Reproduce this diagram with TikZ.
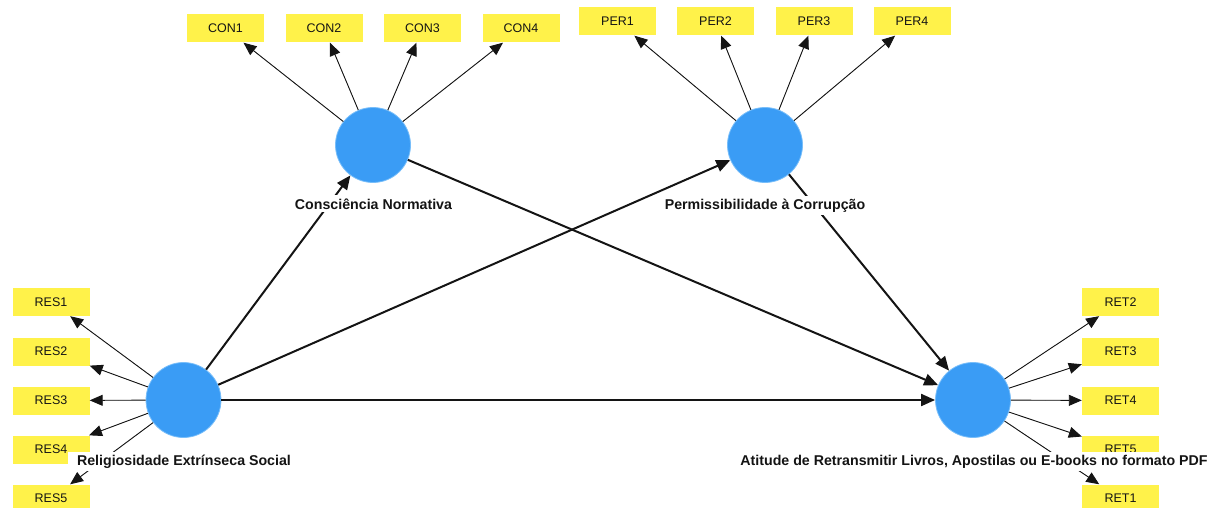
\documentclass[tikz,border=0pt]{standalone}
\usepackage{fontspec}
\setmainfont{Liberation Sans}
\usetikzlibrary{arrows.meta}
\definecolor{lvblue}{RGB}{58,156,245}
\definecolor{lvrim}{RGB}{120,190,250}
\definecolor{indyellow}{RGB}{255,242,74}
\definecolor{ink}{RGB}{20,20,20}
\tikzset{
  latent/.style={circle, fill=lvblue, draw=lvrim, line width=0.8pt,
    minimum size=75pt, inner sep=0pt},
  indicator/.style={rectangle, fill=indyellow, minimum width=77pt,
    minimum height=28pt, inner sep=0pt, text=ink,
    font=\fontsize{12.5}{14}\selectfont},
  loading/.style={-{Triangle[length=13pt,width=11pt]}, line width=0.9pt,
    draw=ink, fill=ink},
  structural/.style={-{Triangle[length=14pt,width=12pt]}, line width=2pt,
    draw=ink, fill=ink},
  lvlabel/.style={fill=white, inner xsep=9pt, inner ysep=3pt, anchor=base,
    text=ink, font=\bfseries\fontsize{14.2}{16}\selectfont}
}
\begin{document}
\begin{tikzpicture}[x=1pt,y=-1pt]
\useasboundingbox (0,0) rectangle (1218,508);

% latent variables
\node[latent] (con) at (373,145) {};
\node[latent] (per) at (765,145) {};
\node[latent] (res) at (183.5,400) {};
\node[latent] (ret) at (973,400) {};

% indicators
\node[indicator] (con1) at (225.5,28.5) {CON1};
\node[indicator] (con2) at (324,28.5) {CON2};
\node[indicator] (con3) at (422.5,28.5) {CON3};
\node[indicator] (con4) at (521,28.5) {CON4};

\node[indicator] (per1) at (617.5,21.5) {PER1};
\node[indicator] (per2) at (715.5,21.5) {PER2};
\node[indicator] (per3) at (814,21.5) {PER3};
\node[indicator] (per4) at (912,21.5) {PER4};

\node[indicator] (res1) at (51,302) {RES1};
\node[indicator] (res2) at (51,351.5) {RES2};
\node[indicator] (res3) at (51,400.5) {RES3};
\node[indicator] (res4) at (51,449.5) {RES4};
\node[indicator] (res5) at (51,498.5) {RES5};

\node[indicator] (ret2) at (1120.5,302) {RET2};
\node[indicator] (ret3) at (1120.5,351.5) {RET3};
\node[indicator] (ret4) at (1120.5,400.5) {RET4};
\node[indicator] (ret5) at (1120.5,449.5) {RET5};
\node[indicator] (ret1) at (1120.5,498.5) {RET1};

% outer loadings
\foreach \i in {1,...,4} {
  \draw[loading] (con) -- (con\i);
  \draw[loading] (per) -- (per\i);
}
\foreach \i in {1,...,5} {
  \draw[loading] (res) -- (res\i);
  \draw[loading] (ret) -- (ret\i);
}

% structural paths
\draw[structural] (res) -- (con);
\draw[structural] (res) -- (per);
\draw[structural] (res) -- (ret);
\draw[structural] (con) -- (ret);
\draw[structural] (per) -- (ret);

% construct names
\node[lvlabel] (conlab) at (373.5,209) {Consciência Normativa};
\node[lvlabel] (perlab) at (765,209) {Permissibilidade à Corrupção};
\node[lvlabel] (reslab) at (184,465) {Religiosidade Extrínseca Social};
\node[lvlabel] (retlab) at (974,465) {Atitude de Retransmitir Livros, Apostilas ou E-books no formato PDF};
\end{tikzpicture}
\end{document}
